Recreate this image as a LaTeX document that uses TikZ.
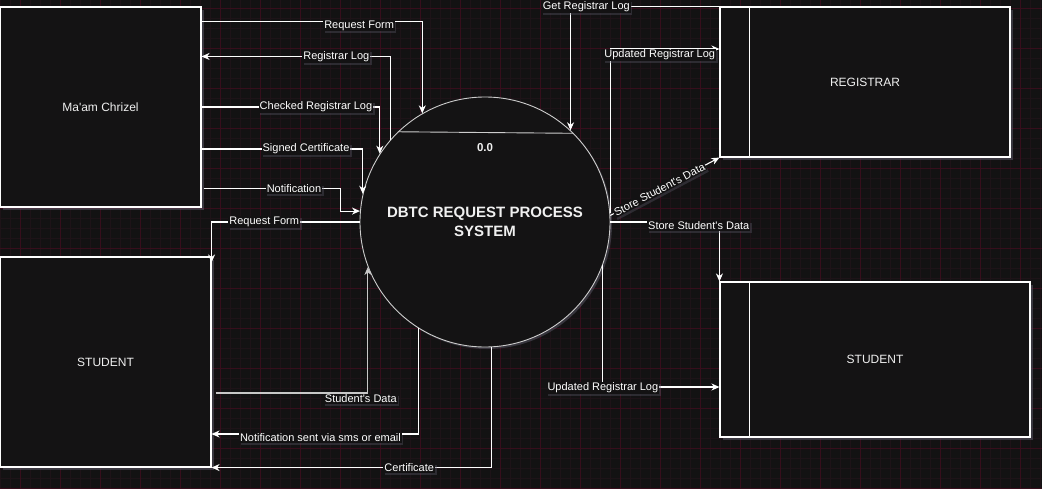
\documentclass[tikz,border=0pt]{standalone}
\usepackage{fontspec}
\setmainfont{Liberation Sans}
\usetikzlibrary{arrows.meta,calc,shadows}
\definecolor{bgc}{RGB}{19,18,19}
\definecolor{boxc}{RGB}{20,19,20}
\definecolor{gridminor}{RGB}{30,19,24}
\definecolor{gridmajor}{RGB}{55,14,28}
\definecolor{glow}{RGB}{95,95,110}
\definecolor{edgec}{RGB}{205,205,205}
\definecolor{lgray}{RGB}{200,200,200}
\definecolor{fgc}{RGB}{240,240,240}
\begin{document}
\begin{tikzpicture}[x=1pt,y=-1pt,
  every node/.style={text=fgc},
  entity/.style={draw=white, line width=1.1pt, fill=boxc, rectangle, inner sep=0pt,
    font=\fontsize{12}{14}\selectfont,
    drop shadow={shadow xshift=3pt,shadow yshift=-3pt,fill=glow,opacity=.5}},
  procc/.style={circle, draw=edgec, line width=0.9pt, fill=boxc, minimum size=250pt,
    inner sep=0pt, align=center, font=\bfseries\fontsize{15}{19}\selectfont,
    drop shadow={shadow xshift=2pt,shadow yshift=-2pt,fill=glow,opacity=.45}},
  flow/.style={draw=white, line width=1.1pt, -{Stealth[length=8pt,width=7pt,inset=2.5pt]}},
  lbl/.style={fill=bgc, inner sep=1pt, font=\fontsize{11}{13}\selectfont, text=white,
    drop shadow={shadow xshift=1.5pt,shadow yshift=-2pt,fill=glow,opacity=.35}},
  divline/.style={draw=white, line width=1.1pt},
]
\fill[bgc] (0,0) rectangle (1042,488);
\useasboundingbox (0,0) rectangle (1042,488);
\foreach \x in {0,10,...,1040} \draw[gridminor,line width=0.5pt] (\x,0) -- (\x,488);
\foreach \y in {8,18,...,488} \draw[gridminor,line width=0.5pt] (0,\y) -- (1042,\y);
\foreach \x in {20,60,...,1020} \draw[gridmajor,line width=0.7pt] (\x,0) -- (\x,488);
\foreach \y in {8,48,...,488} \draw[gridmajor,line width=0.7pt] (0,\y) -- (1042,\y);

% entities
\node[entity, minimum width=201pt, minimum height=200pt] (mc) at (100.5,107) {Ma\textquotesingle am Chrizel};
\node[entity, minimum width=211pt, minimum height=210pt] (stu) at (105.5,362) {STUDENT};
\node[entity, minimum width=290pt, minimum height=150pt] (reg) at (865,82) {REGISTRAR};
\node[entity, minimum width=310pt, minimum height=155pt] (stu2) at (875,359.5) {STUDENT};
\draw[divline] ($(reg.north west)+(30,0)$) -- ($(reg.south west)+(30,0)$);
\draw[divline] ($(stu2.north west)+(30,0)$) -- ($(stu2.south west)+(30,0)$);

% process
\node[procc] (proc) at (485,222) {DBTC REQUEST PROCESS\\SYSTEM};
\draw[edgec, line width=0.9pt] (proc.134.6) -- (proc.45.4);
\node[font=\bfseries\fontsize{11.5}{14}\selectfont] (pnum) at ($(proc.center)+(0,-74)$) {0.0};

% flows: Ma'am Chrizel
\draw[flow] ($(mc.north east)+(0,15)$) -| node[lbl,pos=0.357,yshift=-4pt]{Request Form} (proc.120.8);
\draw[flow] (proc.139.5) |- node[lbl,pos=0.643]{Registrar Log} ($(mc.north east)+(0,50)$);
\draw[flow] (mc.east) -| node[lbl,pos=0.321]{Checked Registrar Log} (proc.147.1);
\draw[flow] ($(mc.east)+(0,42)$) -| node[lbl,pos=0.324]{Signed Certificate} (proc.167);
\draw[flow] ($(mc.south east)+(2,-19)$) -- node[lbl,pos=0.66]{Notification} ++(137,0) |- (proc.175.4);

% flows: Student (left)
\draw[flow] (proc.west) -| node[lbl,pos=0.322]{Request Form} ($(stu.north east)+(0,6)$);
\draw[flow,draw=lgray] ($(stu.east)+(4,31)$) -| node[lbl,pos=0.477,yshift=-6pt]{Student\textquotesingle s Data} (proc.201.9);
\draw[flow] (proc.238.7) |- node[lbl,pos=0.737,yshift=-4pt]{Notification sent via sms or email} ($(stu.east)+(0,72)$);
\draw[flow] (proc.273.7) |- node[lbl,pos=0.647]{Certificate} (stu.south east);

% flows: Registrar
\draw[flow] (reg.north west) -| node[lbl,pos=0.447]{Get Registrar Log} (proc.47.2);
\draw[flow] (proc.4) |- node[lbl,pos=0.727,yshift=-6pt]{Updated Registrar Log} ($(reg.west)+(0,-33)$);
\draw[flow] (proc.3) -- node[lbl,pos=0.45,sloped]{Store Student\textquotesingle s Data} (reg.south west);

% flows: Student (right)
\draw[flow] (proc.east) -| node[lbl,pos=0.405,yshift=-4pt]{Store Student\textquotesingle s Data} (stu2.north west);
\draw[flow] (proc.340.7) |- node[lbl,pos=0.5,yshift=-1pt]{Updated Registrar Log} ($(stu2.west)+(0,27.5)$);
\end{tikzpicture}
\end{document}
